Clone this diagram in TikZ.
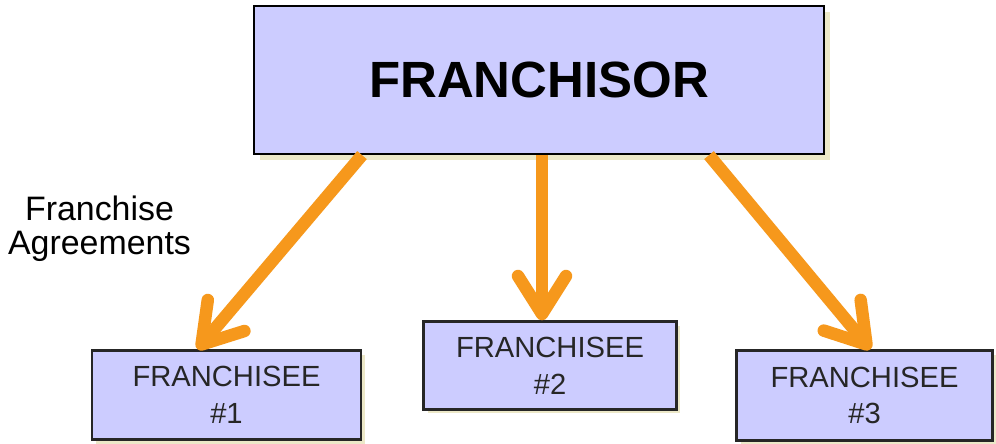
\documentclass[tikz,border=0pt]{standalone}
\usepackage{fontspec}
\setmainfont{Liberation Sans}
\usetikzlibrary{calc,arrows.meta,shadows}
\definecolor{lavender}{RGB}{204,204,255}
\definecolor{deal}{RGB}{246,152,28}
\definecolor{shade}{RGB}{236,232,200}
\tikzset{
	sorbox/.style={draw=black, line width=0.45mm, fill=lavender, minimum width=11.4cm, minimum height=2.96cm,
		drop shadow={shadow xshift=1.2mm, shadow yshift=-1.2mm, fill=shade, opacity=1}},
	feebox/.style={draw=black!85, line width=0.5mm, fill=lavender, align=center, text=black!85,
		font=\fontsize{16.6pt}{21pt}\selectfont,
		drop shadow={shadow xshift=0.8mm, shadow yshift=-0.8mm, fill=shade, opacity=1}},
	dealarrow/.style={draw=deal, line width=2.5mm, -{Straight Barb[length=7.6mm, width=9.6mm, round]}}
}

\begin{document}
\begin{tikzpicture}[x=0.02cm, y=-0.02cm]
		%%%%% START %%%%%
		\useasboundingbox[fill=white] (0, 0) rectangle (996, 443);
		
		\node[sorbox] (sor) at (539, 80) {\fontsize{29pt}{30pt}\selectfont\bfseries FRANCHISOR};
		
		\node[feebox, minimum width=5.38cm, minimum height=1.78cm] (fee1) at (226.5, 395) {FRANCHISEE\\\#1};
		\node[feebox, minimum width=5.06cm, minimum height=1.76cm] (fee2) at (550, 365.5) {FRANCHISEE\\\#2};
		\node[feebox, minimum width=5.12cm, minimum height=1.8cm] (fee3) at (864.5, 395.5) {FRANCHISEE\\\#3};
		
		\node[align=center, font=\fontsize{19.3pt}{19.6pt}\selectfont] (agree) at (99.5, 229) {Franchise\\Agreements};
		
		\draw[dealarrow] ($(sor.south)+(-177, 0)$) -- ($(fee1.north)+(-29, 0)$);
		\draw[dealarrow] ($(sor.south)+(3, 0)$) -- ($(fee2.north)+(-8, 0)$);
		\draw[dealarrow] ($(sor.south)+(170, 0)$) -- ($(fee3.north)+(6, 0)$);
		
		%%%%% END %%%%%
	\end{tikzpicture}
\end{document}
